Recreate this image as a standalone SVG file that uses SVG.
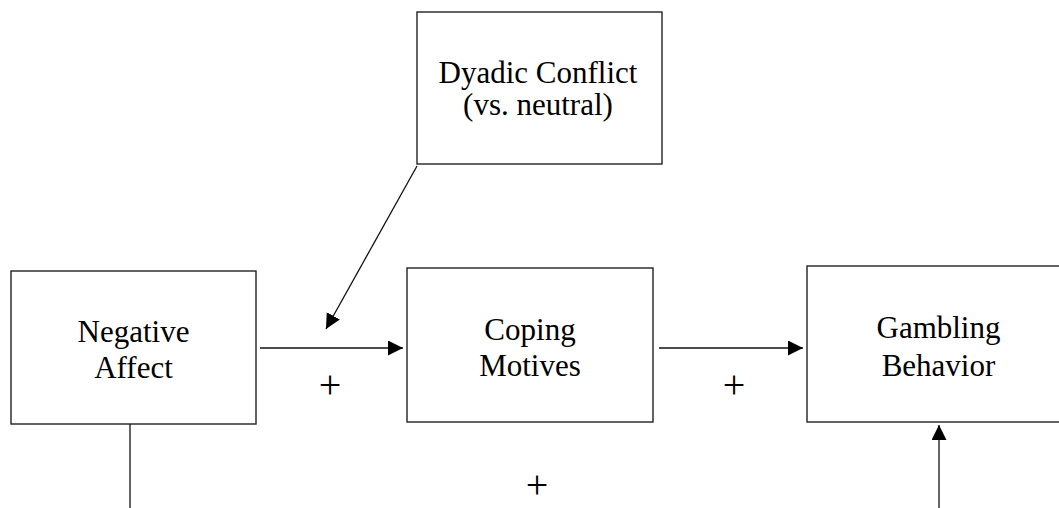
<svg xmlns="http://www.w3.org/2000/svg" width="1059" height="508" viewBox="0 0 1059 508">
<style>
.box{fill:#fff;stroke:#222;stroke-width:1.4}
.t{font-family:'Liberation Serif','Times New Roman',serif;font-size:31px;fill:#000;text-anchor:middle}
.p{font-family:'Liberation Serif','Times New Roman',serif;font-size:40px;fill:#000;text-anchor:middle}
.c{stroke:#111;stroke-width:1.3;fill:none}
</style>
<defs>
<marker id="ah" markerUnits="userSpaceOnUse" markerWidth="16" markerHeight="16" refX="15" refY="7.5" orient="auto">
<path d="M0,0 L15,7.5 L0,15 z" fill="#000"/>
</marker>
</defs>
<rect width="1059" height="508" fill="#fff"/>
<g id="dyadic">
<rect class="box" x="417" y="12" width="245" height="152"/>
<text class="t" x="538" y="83">Dyadic Conflict</text>
<text class="t" x="538" y="115">(vs. neutral)</text>
</g>
<g id="negative-affect">
<rect class="box" x="11" y="271" width="245" height="153"/>
<text class="t" x="133.5" y="342">Negative</text>
<text class="t" x="133.5" y="378">Affect</text>
</g>
<g id="coping-motives">
<rect class="box" x="407" y="268" width="246" height="154"/>
<text class="t" x="530" y="340">Coping</text>
<text class="t" x="530" y="376">Motives</text>
</g>
<g id="gambling-behavior">
<rect class="box" x="807" y="266" width="263" height="156"/>
<text class="t" x="938.5" y="338">Gambling</text>
<text class="t" x="938.5" y="376">Behavior</text>
</g>
<g id="connectors">
<line class="c" x1="260" y1="348" x2="403" y2="348" marker-end="url(#ah)"/>
<line class="c" x1="659" y1="348" x2="803" y2="348" marker-end="url(#ah)"/>
<line class="c" x1="417" y1="166" x2="326" y2="329" marker-end="url(#ah)"/>
<line class="c" x1="130" y1="424" x2="130" y2="508"/>
<line class="c" x1="939" y1="508" x2="939" y2="425" marker-end="url(#ah)"/>
</g>
<g id="labels">
<text class="p" x="330" y="398">+</text>
<text class="p" x="734" y="398">+</text>
<text class="p" x="537" y="498">+</text>
</g>
</svg>
